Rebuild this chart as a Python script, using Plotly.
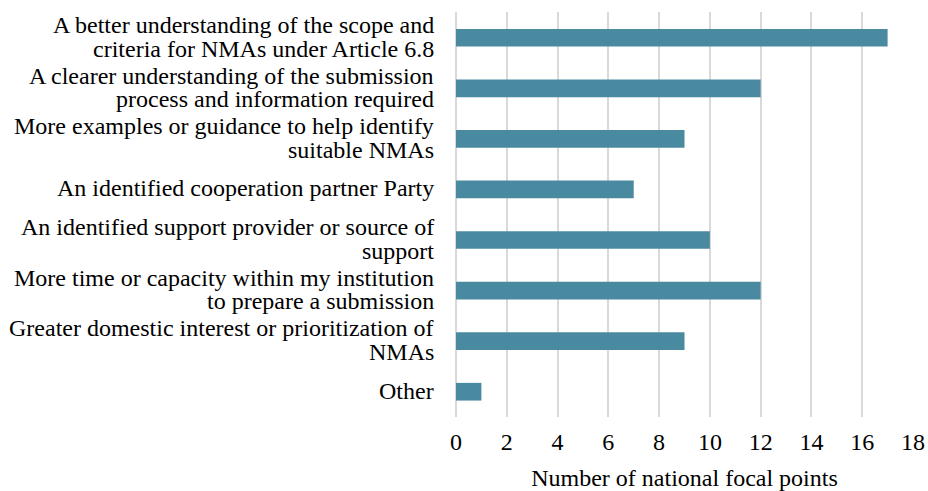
import plotly.graph_objects as go

# each category label as the lines it is broken into in the reference
label_lines = [
    ["A better understanding of the scope and", "criteria for NMAs under Article 6.8"],
    ["A clearer understanding of the submission", "process and information required"],
    ["More examples or guidance to help identify", "suitable NMAs"],
    ["An identified cooperation partner Party"],
    ["An identified support provider or source of", "support"],
    ["More time or capacity within my institution", "to prepare a submission"],
    ["Greater domestic interest or prioritization of", "NMAs"],
    ["Other"],
]
counts = [17, 12, 9, 7, 10, 12, 9, 1]
x_ticks = list(range(0, 19, 2))

categories = [" ".join(lines) for lines in label_lines]

BAR_COLOR = "#4A8AA0"
GRID_COLOR = "#D9D9D9"
FONT = "Liberation Serif, Times New Roman, serif"
FONT_SIZE = 24
LINE_STEP = 23.5

fig = go.Figure(
    go.Bar(
        x=counts,
        y=categories,
        orientation="h",
        marker={"color": BAR_COLOR, "line": {"width": 0}},
        width=0.35,
        hoverinfo="x+y",
    )
)

# category labels: one annotation per line so the line spacing stays tight
for cat, lines in zip(categories, label_lines):
    n = len(lines)
    for i, line in enumerate(lines):
        fig.add_annotation(
            x=0,
            y=cat,
            xref="x",
            yref="y",
            text=line,
            showarrow=False,
            xanchor="right",
            yanchor="middle",
            xshift=-20,
            yshift=((n - 1) / 2 - i) * LINE_STEP + 1,
            font={"family": FONT, "size": FONT_SIZE, "color": "#000000"},
        )

fig.update_layout(
    width=928,
    height=491,
    margin={"l": 456, "r": 15, "t": 12, "b": 74},
    paper_bgcolor="white",
    plot_bgcolor="white",
    font={"family": FONT, "size": FONT_SIZE, "color": "#000000"},
    showlegend=False,
)
fig.update_xaxes(
    range=[0, 18],
    tickvals=x_ticks,
    showgrid=True,
    gridcolor=GRID_COLOR,
    gridwidth=2,
    zeroline=True,
    zerolinecolor=GRID_COLOR,
    zerolinewidth=2,
    showline=False,
    ticks="",
    automargin=False,
    tickfont={"family": FONT, "size": FONT_SIZE},
    ticklabelstandoff=8,
    title={"text": "Number of national focal points", "standoff": 22,
           "font": {"family": FONT, "size": FONT_SIZE}},
)
fig.update_yaxes(
    autorange="reversed",
    showgrid=False,
    showline=False,
    ticks="",
    automargin=False,
    showticklabels=False,
)

fig.write_html(
    "out.html",
    config={"displayModeBar": False},
    post_script="document.body.style.margin='0';document.body.style.overflow='hidden';",
)
